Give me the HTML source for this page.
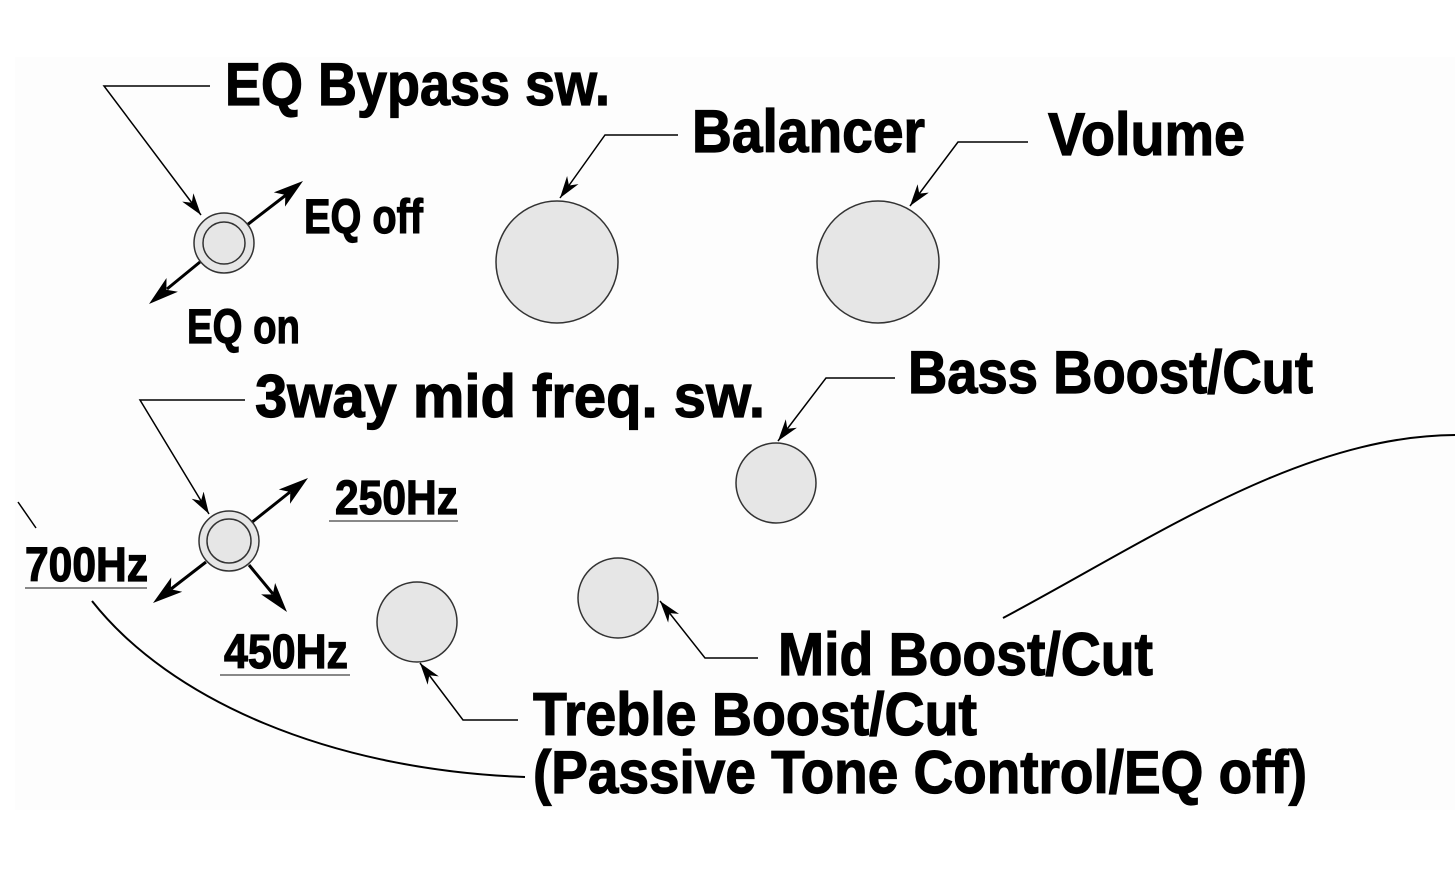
<!DOCTYPE html>
<html><head><meta charset="utf-8"><style>
html,body{margin:0;padding:0;background:#fff;}
svg{display:block;}
text{font-family:"Liberation Sans Narrow","Liberation Sans",sans-serif;font-weight:bold;fill:#000;stroke:#000;stroke-width:1.2;}
</style></head><body>
<svg width="1455" height="876" viewBox="0 0 1455 876" xmlns="http://www.w3.org/2000/svg">
<defs>
<marker id="c" viewBox="0 0 10 10" refX="10" refY="5" markerWidth="22" markerHeight="14" markerUnits="userSpaceOnUse" orient="auto" preserveAspectRatio="none"><path d="M0,0 L10,5 L0,10 L3,5 z" fill="#000"/></marker>
</defs>
<rect x="15" y="57" width="1440" height="753" fill="#fdfdfd"/>
<g fill="none" stroke="#000" stroke-width="1.5">
<path d="M18 502 L36 528"/>
<path d="M92 601 C 170 700, 330 770, 525 777" stroke-width="2"/>
<path d="M1003 618 C 1150 540, 1300 436, 1455 435" stroke-width="2"/>
<polyline points="210,86 104,86 201,215" marker-end="url(#c)"/>
<polyline points="678,135 605,135 560,198" marker-end="url(#c)"/>
<polyline points="1028,142 958,142 910,206" marker-end="url(#c)"/>
<polyline points="895,378 826,378 778,441" marker-end="url(#c)"/>
<polyline points="758,658 705,658 660,601" marker-end="url(#c)"/>
<polyline points="518,720 463,720 420,663" marker-end="url(#c)"/>
<polyline points="245,400 140,400 209,514" marker-end="url(#c)"/>
</g>
<g stroke="#000" stroke-width="3" fill="none">
<line x1="247" y1="225" x2="286" y2="195"/>
<line x1="200" y1="262" x2="167" y2="289"/>
<line x1="251" y1="523" x2="290" y2="492"/>
<line x1="206" y1="562" x2="171" y2="589"/>
<line x1="249" y1="565" x2="273" y2="594"/>
</g>
<g fill="#000">
<polygon points="303,181 285,206.6 285.3,194.9 273.8,192.4"/>
<polygon points="149,304 177.9,291.8 166.4,289.7 166.5,278"/>
<polygon points="308,478 290,503.7 290.3,492 278.8,489.5"/>
<polygon points="153,603 182.2,591.7 170.8,589.2 171.2,577.5"/>
<polygon points="287,612 261.1,594.4 272.8,594.5 275.1,583"/>
</g>
<g fill="#e6e6e6" stroke="#333" stroke-width="1.5">
<circle cx="224" cy="243" r="30"/><circle cx="224" cy="243" r="21"/>
<circle cx="229" cy="541" r="30"/><circle cx="229" cy="541" r="22"/>
<circle cx="557" cy="262" r="61"/>
<circle cx="878" cy="262" r="61"/>
<circle cx="776" cy="483" r="40"/>
<circle cx="618" cy="598" r="40"/>
<circle cx="417" cy="622" r="40"/>
</g>
<g stroke="#888" stroke-width="2">
<line x1="329" y1="521" x2="458" y2="521"/>
<line x1="25" y1="588" x2="147" y2="588"/>
<line x1="220" y1="675" x2="350" y2="675"/>
</g>
<text x="225" y="105" font-size="60" textLength="385" lengthAdjust="spacingAndGlyphs">EQ Bypass sw.</text>
<text x="692" y="152" font-size="60" textLength="233" lengthAdjust="spacingAndGlyphs">Balancer</text>
<text x="1048" y="155" font-size="60" textLength="197" lengthAdjust="spacingAndGlyphs">Volume</text>
<text x="304" y="233" font-size="48" textLength="119" lengthAdjust="spacingAndGlyphs">EQ off</text>
<text x="187" y="343" font-size="48" textLength="113" lengthAdjust="spacingAndGlyphs">EQ on</text>
<text x="255" y="417" font-size="60" textLength="510" lengthAdjust="spacingAndGlyphs">3way mid freq. sw.</text>
<text x="908" y="393" font-size="60" textLength="405" lengthAdjust="spacingAndGlyphs">Bass Boost/Cut</text>
<text x="335" y="514" font-size="48" textLength="123" lengthAdjust="spacingAndGlyphs">250Hz</text>
<text x="25" y="581" font-size="48" textLength="123" lengthAdjust="spacingAndGlyphs">700Hz</text>
<text x="224" y="668" font-size="48" textLength="124" lengthAdjust="spacingAndGlyphs">450Hz</text>
<text x="778" y="675" font-size="60" textLength="375" lengthAdjust="spacingAndGlyphs">Mid Boost/Cut</text>
<text x="533" y="735" font-size="60" textLength="444" lengthAdjust="spacingAndGlyphs">Treble Boost/Cut</text>
<text x="533" y="793" font-size="60" textLength="774" lengthAdjust="spacingAndGlyphs">(Passive Tone Control/EQ off)</text>
</svg>
</body></html>
